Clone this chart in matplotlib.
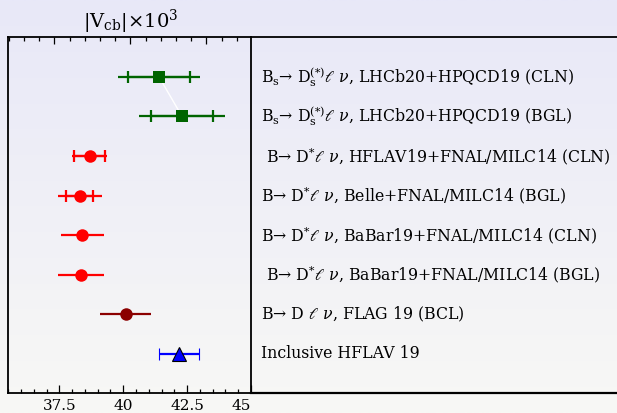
import numpy as np
import matplotlib
matplotlib.use("Agg")
import matplotlib.pyplot as plt
from matplotlib.ticker import MultipleLocator, FixedLocator, NullFormatter

plt.rcParams["font.family"] = ["DejaVu Serif", "DejaVu Sans"]
plt.rcParams["mathtext.fontset"] = "dejavuserif"

# |Vcb| x 10^3 determinations, listed top to bottom
labels = [
    r"B$_{\rm s}$→ D$_{\rm s}^{(*)}\ell\ \nu$, LHCb20+HPQCD19 (CLN)",
    r"B$_{\rm s}$→ D$_{\rm s}^{(*)}\ell\ \nu$, LHCb20+HPQCD19 (BGL)",
    r" B→ D$^{*}\ell\ \nu$, HFLAV19+FNAL/MILC14 (CLN)",
    r"B→ D$^{*}\ell\ \nu$, Belle+FNAL/MILC14 (BGL)",
    r"B→ D$^{*}\ell\ \nu$, BaBar19+FNAL/MILC14 (CLN)",
    r" B→ D$^{*}\ell\ \nu$, BaBar19+FNAL/MILC14 (BGL)",
    r"B→ D $\ell\ \nu$, FLAG 19 (BCL)",
    "Inclusive HFLAV 19",
]
values = [41.4, 42.3, 38.68, 38.3, 38.40, 38.36, 40.1, 42.19]
err_total = [1.62, 1.70, 0.69, 0.87, 0.84, 0.90, 1.0, 0.78]
err_inner = [1.2, 1.2, 0.59, 0.53, 0.0, 0.0, 0.0, 0.0]
colors = ["#006400", "#006400", "#ff0000", "#ff0000", "#ff0000", "#ff0000",
          "#8b0000", "#0000ff"]
markers = ["s", "s", "o", "o", "o", "o", "o", "^"]

W, H = 617, 413
fig = plt.figure(figsize=(W / 100, H / 100), dpi=100)

# soft vertical background gradient
bg = fig.add_axes([0, 0, 1, 1], zorder=-10)
grad = np.linspace(0, 1, 256)[:, None]
top_c = np.array([232, 232, 248]) / 255
bot_c = np.array([248, 248, 245]) / 255
img = top_c[None, None, :] * (1 - grad[..., None]) + bot_c[None, None, :] * grad[..., None]
bg.imshow(img, aspect="auto", extent=[0, 1, 0, 1])
bg.set_axis_off()

x0, x1 = 8.3, 251.0
y0, y1 = 37.3, 393.3
ax = fig.add_axes([x0 / W, 1 - y1 / H, (x1 - x0) / W, (y1 - y0) / H])
ax.patch.set_alpha(0)

n = len(values)
ypos = np.arange(n, 0, -1)

# thin connector between the two LHCb points
ax.plot(values[:2], ypos[:2], color="white", lw=1.0, zorder=1)

for i in range(n):
    ax.errorbar(values[i], ypos[i], xerr=err_total[i], fmt=markers[i],
                color=colors[i], ms=9 if markers[i] != "^" else 10,
                mec="black" if markers[i] == "^" else colors[i],
                mew=0.8 if markers[i] == "^" else 0,
                elinewidth=1.6, capsize=4, capthick=1.6, zorder=3)
    if err_inner[i] > 0:
        ax.errorbar(values[i], ypos[i], xerr=err_inner[i], fmt="none",
                    ecolor=colors[i], elinewidth=1.6, capsize=4,
                    capthick=1.6, zorder=2)

ax.set_xlim(35.5, 45)
ax.set_ylim(0, 9)
ax.set_yticks([])
ax.xaxis.set_major_locator(FixedLocator([37.5, 40, 42.5, 45]))
ax.xaxis.set_minor_locator(MultipleLocator(0.5))
ax.set_xticklabels(["37.5", "40", "42.5", "45"], fontsize=11)
ax.get_xticklabels()[-1].set_horizontalalignment("right")
ax.tick_params(axis="x", which="major", direction="in", length=6, width=0.9,
               pad=4, top=False)
ax.tick_params(axis="x", which="minor", direction="in", length=3, width=0.9,
               top=False)
for s in ax.spines.values():
    s.set_linewidth(1.3)

# upper frame ticks
axt = ax.twiny()
axt.set_xlim(0.393, 3.586)
axt.xaxis.set_major_locator(MultipleLocator(1))
axt.xaxis.set_minor_locator(MultipleLocator(0.2))
axt.xaxis.set_major_formatter(NullFormatter())
axt.tick_params(axis="x", which="major", direction="in", length=5, width=0.9)
axt.tick_params(axis="x", which="minor", direction="in", length=3, width=0.9)
for s in axt.spines.values():
    s.set_visible(False)

# frame lines that continue across the label panel
fig.add_artist(plt.Line2D([x1 / W, 1.0], [1 - y0 / H, 1 - y0 / H],
                          color="black", lw=1.3, transform=fig.transFigure))
fig.add_artist(plt.Line2D([x1 / W, 1.0], [1 - y1 / H, 1 - y1 / H],
                          color="black", lw=1.6, transform=fig.transFigure))

for i in range(n):
    ax.text(1.0 + (261 - x1) / (x1 - x0), ypos[i], labels[i],
            transform=ax.get_yaxis_transform(), fontsize=11.3, va="center",
            ha="left", clip_on=False)

fig.text(83 / W, 1 - 27.5 / H, r"|V$_{\rm cb}$|×10$^{3}$", fontsize=14,
         ha="left", va="baseline")

fig.savefig("out.png", dpi=100)
